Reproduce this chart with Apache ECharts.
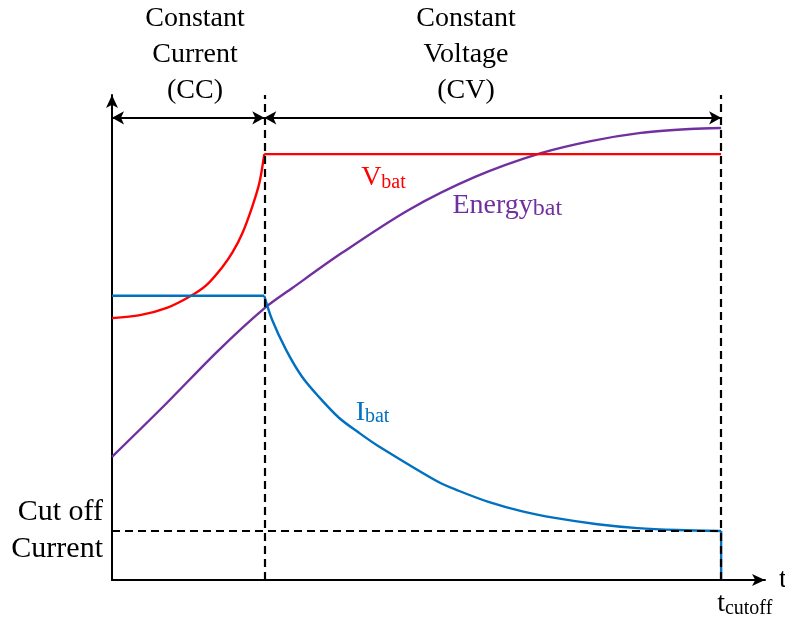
<!DOCTYPE html>
<html>
<head>
<meta charset="utf-8">
<script src="https://cdn.jsdelivr.net/npm/echarts@6/dist/echarts.min.js"></script>
<style>html,body{margin:0;padding:0;background:#fff;}#c{width:785px;height:620px;}</style>
</head>
<body>
<div id="c"></div>
<script>
// ---- data (time in arbitrary units, values in % of axis height) ----
const vbatT = [0, 0.46, 0.90, 1.27, 1.55, 1.81, 1.98, 2.14, 2.30, 2.42, 2.50, 10.0];
const vbatV = [54.0, 54.6, 56.1, 58.4, 60.8, 64.5, 67.6, 71.5, 76.9, 81.9, 87.8, 87.8];
const ibatT = [0, 2.50, 2.63, 2.86, 3.12, 3.40, 3.73, 4.05, 4.35, 5.36, 5.69, 6.18, 6.72, 7.27, 7.97, 8.63, 9.28, 10.0, 10.0];
const ibatV = [58.6, 58.6, 53.6, 47.4, 41.9, 37.7, 33.4, 30.4, 27.8, 20.2, 18.4, 16.1, 14.2, 12.8, 11.5, 10.7, 10.3, 10.1, 0];
const energyT = [0, 0.90, 1.72, 2.50, 2.96, 3.77, 4.87, 5.96, 7.04, 7.86, 8.68, 9.49, 10.0];
const energyV = [25.4, 36.5, 47.0, 56.0, 60.2, 67.4, 76.3, 83.1, 88.0, 90.5, 92.2, 93.0, 93.2];
const ccEnd = 2.5;        // end of constant-current phase
const tCutoff = 10.0;     // cutoff time
const cutoffCurrent = 10.1;
const phaseArrowLevel = 95.3;
const phaseTitles = ['Constant\nCurrent\n(CC)', 'Constant\nVoltage\n(CV)'];

const zip = (a, b) => a.map((v, i) => [v, b[i]]);
const vbatPts = zip(vbatT, vbatV);
const ibatPts = zip(ibatT, ibatV);
const nI = ibatPts.length;
const FONT = '"Liberation Serif", "Times New Roman", serif';
const RED = '#FF0000', BLUE = '#0070C0', PURPLE = '#7030A0';
const LW = 2.4;

function subLabel(main, sub, color, subSize) {
  return {
    show: true,
    formatter: '{m|' + main + '}{s|' + sub + '}',
    align: 'left',
    verticalAlign: 'middle',
    rich: {
      m: { fontFamily: FONT, fontSize: 28, color: color, lineHeight: 30 },
      s: { fontFamily: FONT, fontSize: subSize, color: color, lineHeight: 30, verticalAlign: 'bottom', padding: [9, 0, 0, 0] }
    }
  };
}
function seg(name, pts, color, smooth, z, extra) {
  return Object.assign({
    type: 'line', name: name, data: pts, smooth: smooth, showSymbol: false,
    lineStyle: { color: color, width: LW }, z: z, silent: true
  }, extra || {});
}

const chart = echarts.init(document.getElementById('c'), null, { renderer: 'canvas' });
chart.setOption({
  animation: false,
  backgroundColor: '#fff',
  grid: { left: 112, right: 20, top: 95, bottom: 40, containLabel: false, outerBoundsMode: 'none' },
  xAxis: {
    type: 'value', min: 0, max: 10.72,
    splitLine: { show: false },
    axisTick: { show: false },
    axisLine: { lineStyle: { color: '#000', width: 2 }, symbol: ['none', 'arrow'], symbolSize: [9, 13] },
    name: 't', nameLocation: 'end', nameGap: 14,
    nameTextStyle: { fontFamily: FONT, fontSize: 28, color: '#000', verticalAlign: 'middle' },
    axisLabel: {
      customValues: [tCutoff],
      align: 'left', margin: 9,
      formatter: () => '{m|t}{s|cutoff}',
      rich: {
        m: { fontFamily: FONT, fontSize: 28, color: '#000', lineHeight: 30 },
        s: { fontFamily: FONT, fontSize: 20, color: '#000', lineHeight: 30, verticalAlign: 'bottom', padding: [9, 0, 0, 0] }
      },
      padding: [0, 0, 0, -4]
    }
  },
  yAxis: {
    type: 'value', min: 0, max: 100,
    splitLine: { show: false },
    axisTick: { show: false },
    axisLine: { show: true, lineStyle: { color: '#000', width: 2 }, symbol: ['none', 'arrow'], symbolSize: [9, 13] },
    axisLabel: {
      customValues: [cutoffCurrent],
      formatter: () => 'Cut off\nCurrent',
      fontFamily: FONT, fontSize: 30, color: '#000', lineHeight: 37, margin: 9, align: 'right'
    }
  },
  graphic: [
    { type: 'text', x: 195, y: 1, style: { text: phaseTitles[0], font: '28px ' + FONT, fill: '#000', align: 'center', verticalAlign: 'top', lineHeight: 36 } },
    { type: 'text', x: 466, y: 1, style: { text: phaseTitles[1], font: '28px ' + FONT, fill: '#000', align: 'center', verticalAlign: 'top', lineHeight: 36 } }
  ],
  series: [
    seg('Energy', zip(energyT, energyV), PURPLE, 0.3, 2, {
      markPoint: { symbol: 'circle', symbolSize: 0, silent: true,
        data: [{ coord: [5.59, 77.1], label: subLabel('Energy', 'bat', PURPLE, 24) }] }
    }),
    seg('Vbat', vbatPts.slice(0, 11), RED, 0.3, 3, {
      markPoint: { symbol: 'circle', symbolSize: 0, silent: true,
        data: [{ coord: [4.09, 82.9], label: subLabel('V', 'bat', RED, 20) }] }
    }),
    seg('Vbat CV', vbatPts.slice(10), RED, false, 3),
    seg('Ibat CC', ibatPts.slice(0, 2), BLUE, false, 3, {
      markPoint: { symbol: 'circle', symbolSize: 0, silent: true,
        data: [{ coord: [4.00, 34.6], label: subLabel('I', 'bat', BLUE, 20) }] }
    }),
    seg('Ibat CV', ibatPts.slice(1, nI - 1), BLUE, 0.3, 3),
    seg('Ibat end', ibatPts.slice(nI - 2), BLUE, false, 3),
    {
      type: 'line', name: 'guides', data: [], z: 5,
      markLine: {
        silent: true, symbol: ['none', 'none'], label: { show: false },
        lineStyle: { color: '#000', width: 2.2, type: [8, 5] },
        data: [
          [{ coord: [ccEnd, 0] }, { coord: [ccEnd, 100] }],
          [{ coord: [tCutoff, 0] }, { coord: [tCutoff, 100] }],
          [{ coord: [0, cutoffCurrent] }, { coord: [tCutoff, cutoffCurrent] }]
        ]
      }
    },
    {
      type: 'line', name: 'phases', data: [], z: 6,
      markLine: {
        silent: true, symbol: ['arrow', 'arrow'], symbolSize: [10, 12], label: { show: false },
        lineStyle: { color: '#000', width: 2, type: 'solid' },
        data: [
          [{ coord: [0, phaseArrowLevel] }, { coord: [ccEnd, phaseArrowLevel] }],
          [{ coord: [ccEnd, phaseArrowLevel] }, { coord: [tCutoff, phaseArrowLevel] }]
        ]
      }
    }
  ]
});
</script>
</body>
</html>
